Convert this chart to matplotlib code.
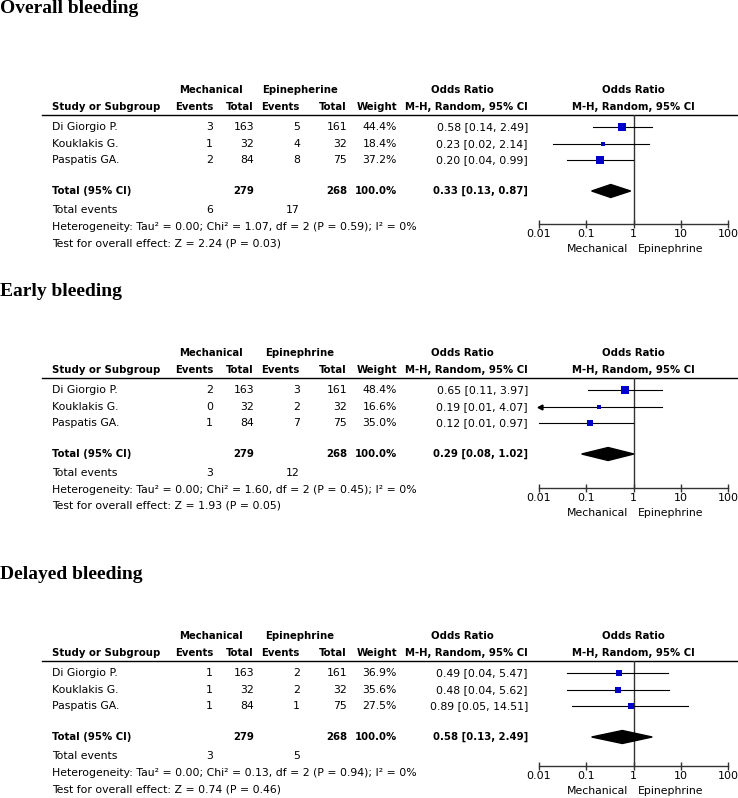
import matplotlib
matplotlib.use("Agg")
import matplotlib.pyplot as plt
from matplotlib.patches import Polygon

# ---- data ----
sections = ["Overall bleeding", "Early bleeding", "Delayed bleeding"]
epi_header = ["Epinepherine", "Epinephrine", "Epinephrine"]
studies = ["Di Giorgio P.", "Kouklakis G.", "Paspatis GA."]
mech_total = [163, 32, 84]
epi_total = [161, 32, 75]
mech_events = [[3, 1, 2], [2, 0, 1], [1, 1, 1]]
epi_events = [[5, 4, 8], [3, 2, 7], [2, 2, 1]]
weights = [[44.4, 18.4, 37.2], [48.4, 16.6, 35.0], [36.9, 35.6, 27.5]]
or_est = [[0.58, 0.23, 0.20], [0.65, 0.19, 0.12], [0.49, 0.48, 0.89]]
ci_lo = [[0.14, 0.02, 0.04], [0.11, 0.01, 0.01], [0.04, 0.04, 0.05]]
ci_hi = [[2.49, 2.14, 0.99], [3.97, 4.07, 0.97], [5.47, 5.62, 14.51]]
off_scale = [[False, False, False], [False, True, False], [False, False, False]]
pooled_or = [0.33, 0.29, 0.58]
pooled_lo = [0.13, 0.08, 0.13]
pooled_hi = [0.87, 1.02, 2.49]
tot_ev_mech = [6, 3, 3]
tot_ev_epi = [17, 12, 5]
chi2 = [1.07, 1.60, 0.13]
het_p = [0.59, 0.45, 0.94]
z_val = [2.24, 1.93, 0.74]
z_p = [0.03, 0.05, 0.46]
ticks = [0.01, 0.1, 1, 10, 100]
tick_labels = ["0.01", "0.1", "1", "10", "100"]

W, H = 738, 798
fig = plt.figure(figsize=(W / 100, H / 100), dpi=100)
bg = fig.add_axes([0, 0, 1, 1])
bg.set_xlim(0, W)
bg.set_ylim(H, 0)
bg.axis("off")

FS = 7.8    # regular text
FB = 7.3    # bold text
BLUE = "#0000c8"
title_base = [13, 296, 579]
base_y = [90, 353, 636]
axis_y = [224, 488, 766]

for k in range(3):
    y0 = base_y[k]
    bg.text(0, title_base[k], sections[k], fontsize=14, fontweight="bold",
            family="Liberation Serif", va="baseline", ha="left")

    # headers
    bg.text(211, y0, "Mechanical", fontsize=FB, fontweight="bold", ha="center", va="center")
    bg.text(300, y0, epi_header[k], fontsize=FB, fontweight="bold", ha="center", va="center")
    bg.text(462, y0, "Odds Ratio", fontsize=FB, fontweight="bold", ha="center", va="center")
    bg.text(633, y0, "Odds Ratio", fontsize=FB, fontweight="bold", ha="center", va="center")
    h2 = y0 + 17
    bg.text(52, h2, "Study or Subgroup", fontsize=FB, fontweight="bold", ha="left", va="center")
    for x, s in [(213, "Events"), (254, "Total"), (300, "Events"), (347, "Total"),
                 (397, "Weight"), (528, "M-H, Random, 95% CI")]:
        bg.text(x, h2, s, fontsize=FB, fontweight="bold", ha="right", va="center")
    bg.text(633, h2, "M-H, Random, 95% CI", fontsize=FB, fontweight="bold", ha="center", va="center")
    bg.plot([42, W], [y0 + 25, y0 + 25], color="black", lw=1)

    # study rows
    row_y = [y0 + 37, y0 + 54, y0 + 70]
    for i in range(3):
        ry = row_y[i]
        bg.text(52, ry, studies[i], fontsize=FS, ha="left", va="center")
        bg.text(213, ry, str(mech_events[k][i]), fontsize=FS, ha="right", va="center")
        bg.text(254, ry, str(mech_total[i]), fontsize=FS, ha="right", va="center")
        bg.text(300, ry, str(epi_events[k][i]), fontsize=FS, ha="right", va="center")
        bg.text(347, ry, str(epi_total[i]), fontsize=FS, ha="right", va="center")
        bg.text(397, ry, f"{weights[k][i]:.1f}%", fontsize=FS, ha="right", va="center")
        bg.text(528, ry, f"{or_est[k][i]:.2f} [{ci_lo[k][i]:.2f}, {ci_hi[k][i]:.2f}]",
                fontsize=FS, ha="right", va="center")

    # total row
    ty = y0 + 101
    bg.text(52, ty, "Total (95% CI)", fontsize=FB, fontweight="bold", ha="left", va="center")
    bg.text(254, ty, str(sum(mech_total)), fontsize=FB, fontweight="bold", ha="right", va="center")
    bg.text(347, ty, str(sum(epi_total)), fontsize=FB, fontweight="bold", ha="right", va="center")
    bg.text(397, ty, "100.0%", fontsize=FB, fontweight="bold", ha="right", va="center")
    bg.text(528, ty, f"{pooled_or[k]:.2f} [{pooled_lo[k]:.2f}, {pooled_hi[k]:.2f}]",
            fontsize=FB, fontweight="bold", ha="right", va="center")

    bg.text(52, y0 + 120, "Total events", fontsize=FS, ha="left", va="center")
    bg.text(213, y0 + 120, str(tot_ev_mech[k]), fontsize=FS, ha="right", va="center")
    bg.text(300, y0 + 120, str(tot_ev_epi[k]), fontsize=FS, ha="right", va="center")
    bg.text(52, y0 + 137,
            f"Heterogeneity: Tau\u00b2 = 0.00; Chi\u00b2 = {chi2[k]:.2f}, df = 2 (P = {het_p[k]:.2f}); I\u00b2 = 0%",
            fontsize=FS, ha="left", va="center")
    bg.text(52, y0 + 153, f"Test for overall effect: Z = {z_val[k]:.2f} (P = {z_p[k]:.2f})",
            fontsize=FS, ha="left", va="center")

    # forest plot
    top, bot = y0 + 25, axis_y[k]
    ax = fig.add_axes([539 / W, 1 - bot / H, (728 - 539) / W, (bot - top) / H])
    ax.set_xscale("log")
    ax.set_xlim(0.01, 100)
    ax.set_ylim(bot, top)
    ax.patch.set_alpha(0)
    for sp in ["left", "right", "top"]:
        ax.spines[sp].set_visible(False)
    ax.spines["bottom"].set_color("#333333")
    ax.spines["bottom"].set_linewidth(1)
    ax.set_yticks([])
    ax.set_xticks(ticks)
    ax.set_xticklabels(tick_labels)
    ax.minorticks_off()
    ax.tick_params(axis="x", direction="inout", length=6, width=1, color="#333333",
                   labelsize=8, pad=0.5)
    ax.axvline(1, color="#333333", lw=1)
    for i in range(3):
        ry = row_y[i]
        ax.plot([ci_lo[k][i], ci_hi[k][i]], [ry, ry], color="black", lw=0.8, clip_on=False)
        if off_scale[k][i]:
            ax.plot([0.0105], [ry], marker="<", color="black", markersize=3.5, clip_on=False)
        side = 2 + 0.135 * weights[k][i]
        ax.plot([or_est[k][i]], [ry], marker="s", color=BLUE, markersize=side * 0.72,
                markeredgewidth=0, clip_on=False, zorder=3)
    ax.add_patch(Polygon([(pooled_lo[k], ty), (pooled_or[k], ty - 6.5),
                          (pooled_hi[k], ty), (pooled_or[k], ty + 6.5)],
                         closed=True, color="black", zorder=3))
    bg.text(628, axis_y[k] + 25, "Mechanical", fontsize=FS, ha="right", va="center")
    bg.text(638, axis_y[k] + 25, "Epinephrine", fontsize=FS, ha="left", va="center")

fig.savefig("out.png", dpi=100)
